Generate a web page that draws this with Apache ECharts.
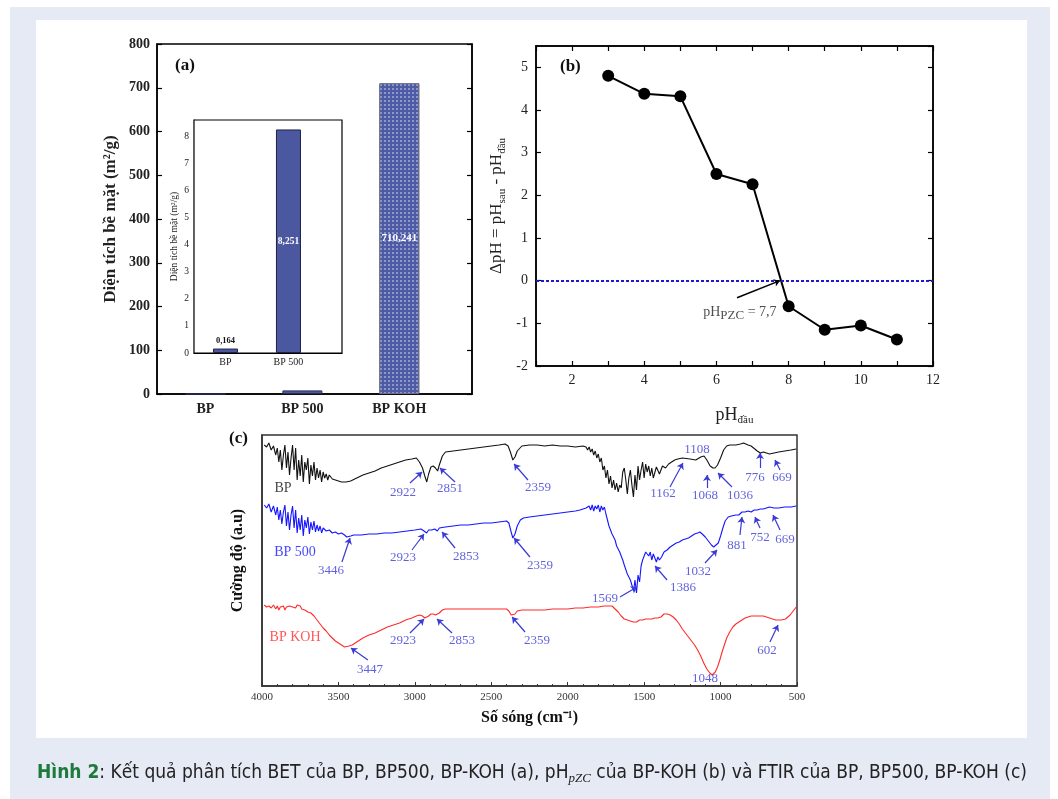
<!DOCTYPE html>
<html><head><meta charset="utf-8">
<script src="https://cdn.jsdelivr.net/npm/echarts@6/dist/echarts.min.js"></script>
<style>
html,body{margin:0;padding:0;background:#fff;}
#bg{position:absolute;left:10px;top:7px;width:1040px;height:792px;background:#e6eaf5;}
#inner{position:absolute;left:36px;top:20px;width:991px;height:718px;background:#fff;}
#c{position:absolute;left:0;top:0;width:1058px;height:799px;}
</style>
</head><body><div id="bg"></div><div id="inner"></div><div id="c"></div>
<script>
// ---------- data ----------
const betCategories = ['BP', 'BP 500', 'BP KOH'];
const betValues = [0.164, 8.251, 710.241];
const insetCategories = ['BP', 'BP 500'];
const insetValues = [0.164, 8.251];

const pzcX = [3, 4, 5, 6, 7, 8, 9, 10, 11];
const pzcY = [4.8, 4.38, 4.32, 2.5, 2.26, -0.6, -1.15, -1.05, -1.38];
const pzcLabel = '7,7';

// FTIR spectra: [wavenumber, intensity (a.u., offset stacked)]
const ftirBP = [
[3985,241],[3970,239],[3955,243],[3940,236],[3925,240],[3910,231],[3900,238],[3890,224],[3880,236],[3870,216],
[3860,231],[3850,241],[3840,218],[3830,234],[3820,211],[3810,228],[3800,241],[3790,216],[3780,238],[3770,206],
[3760,226],[3750,210],[3740,231],[3730,204],[3720,224],[3710,216],[3700,228],[3690,202],[3680,221],[3670,210],
[3660,224],[3650,206],[3640,218],[3630,208],[3620,216],[3610,204],[3600,214],[3590,208],[3580,212],[3570,206],
[3560,211],[3540,207],[3520,206],[3500,205],[3480,204],[3450,204],[3420,205],[3380,208],[3340,211],[3300,213],
[3260,215],[3220,218],[3180,220],[3140,222],[3100,224],[3060,226],[3020,227],[2990,228],[2970,224],[2950,218],
[2935,210],[2922,204],[2910,212],[2895,219],[2880,220],[2865,218],[2851,215],[2840,221],[2820,230],[2800,234],
[2750,235],[2700,236],[2650,237],[2600,238],[2550,239],[2500,240],[2450,241],[2410,242],[2390,240],[2375,234],
[2359,226],[2345,229],[2330,235],[2300,240],[2250,241],[2200,241],[2150,240],[2100,241],[2050,240],[2000,240],
[1950,239],[1900,240],[1880,239],[1870,236],[1860,239],[1850,234],[1840,237],[1830,231],[1820,235],[1810,228],
[1800,232],[1790,224],[1780,228],[1770,216],[1760,220],[1750,208],[1740,216],[1730,202],[1720,210],[1710,198],
[1700,206],[1690,196],[1680,203],[1670,194],[1660,201],[1650,198],[1640,214],[1630,218],[1620,206],[1610,192],
[1600,208],[1590,216],[1580,201],[1570,189],[1560,211],[1550,196],[1540,220],[1530,206],[1520,216],[1510,224],
[1500,208],[1490,222],[1480,214],[1470,220],[1460,210],[1450,218],[1440,208],[1420,219],[1400,212],[1380,220],
[1360,218],[1340,222],[1320,224],[1300,226],[1280,227],[1250,228],[1200,227],[1162,226],[1130,229],[1108,230],
[1090,226],[1068,220],[1050,218],[1036,218],[1020,221],[1000,228],[980,236],[960,240],[940,241],[900,241],
[870,242],[850,243],[820,241],[800,240],[776,237],[760,235],[740,233],[720,234],[700,233],[680,232],
[669,231],[650,233],[620,234],[580,235],[540,236],[505,237]
];
const ftirBP500 = [
[3985,181],[3970,178],[3955,182],[3940,174],[3925,180],[3910,171],[3900,179],[3890,166],[3880,176],[3870,162],
[3860,174],[3850,181],[3840,160],[3830,174],[3820,156],[3810,171],[3800,180],[3790,158],[3780,176],[3770,153],
[3760,168],[3750,156],[3740,171],[3730,150],[3720,166],[3710,158],[3700,169],[3690,152],[3680,164],[3670,156],
[3660,165],[3650,154],[3640,161],[3630,155],[3620,160],[3610,153],[3600,158],[3580,155],[3560,156],[3540,153],
[3520,154],[3500,152],[3480,153],[3460,151],[3446,149],[3420,150],[3400,151],[3350,151],[3300,152],[3250,152],
[3200,153],[3150,153],[3100,154],[3050,155],[3000,156],[2960,157],[2940,155],[2923,153],[2910,156],[2890,156],
[2870,157],[2853,155],[2840,158],[2800,159],[2750,160],[2700,161],[2650,161],[2600,162],[2550,163],[2500,163],
[2450,164],[2400,165],[2385,163],[2370,154],[2359,148],[2345,152],[2330,160],[2310,166],[2290,168],[2250,169],
[2200,170],[2150,171],[2100,172],[2050,173],[2000,174],[1950,175],[1920,176],[1900,177],[1880,178],[1870,176],
[1860,180],[1850,176],[1840,181],[1830,175],[1820,180],[1810,177],[1800,181],[1790,174],[1780,180],[1770,176],
[1760,179],[1750,172],[1740,166],[1730,160],[1720,162],[1710,152],[1700,154],[1690,146],[1680,140],[1670,142],
[1660,134],[1650,130],[1640,126],[1630,121],[1620,123],[1610,112],[1600,114],[1590,106],[1580,108],[1569,95],
[1560,106],[1550,93],[1540,111],[1530,104],[1520,120],[1510,126],[1500,130],[1490,134],[1480,136],[1470,130],
[1460,134],[1450,126],[1440,132],[1430,128],[1420,124],[1410,129],[1400,126],[1386,129],[1370,134],[1350,136],
[1330,139],[1310,141],[1290,143],[1270,144],[1250,146],[1230,147],[1210,148],[1190,150],[1170,152],[1150,153],
[1135,154],[1120,152],[1100,149],[1080,145],[1060,141],[1045,139],[1032,139],[1015,143],[1000,150],[985,158],
[970,165],[950,169],[930,170],[900,171],[881,171],[860,174],[840,174],[820,175],[800,174],[780,176],
[760,176],[752,175],[740,177],[720,177],[700,178],[680,179],[669,178],[650,178],[620,178],[580,179],
[540,179],[505,180]
];
const ftirKOH = [
[3985,81],[3970,79],[3955,80],[3940,78],[3925,81],[3910,77],[3900,80],[3890,76],[3880,79],[3870,78],
[3860,80],[3850,76],[3840,79],[3830,77],[3820,80],[3800,79],[3790,81],[3780,78],[3770,81],[3760,79],
[3750,80],[3740,77],[3730,79],[3720,76],[3710,77],[3700,74],[3690,75],[3680,73],[3660,70],[3640,66],
[3620,62],[3600,58],[3580,55],[3560,51],[3540,48],[3520,45],[3500,43],[3480,41],[3460,39],[3447,39],
[3430,40],[3410,41],[3390,43],[3370,45],[3340,48],[3300,51],[3260,53],[3220,56],[3180,59],[3140,61],
[3100,63],[3060,66],[3020,68],[2990,70],[2970,71],[2950,70],[2935,68],[2923,67],[2910,70],[2895,72],
[2880,72],[2865,71],[2853,70],[2840,73],[2820,76],[2800,77],[2700,77],[2600,77],[2500,77],[2420,77],
[2400,77],[2385,75],[2370,71],[2359,69],[2345,72],[2330,75],[2300,76],[2250,76],[2200,76],[2150,76],
[2100,77],[2050,77],[2000,77],[1950,78],[1900,78],[1850,79],[1800,79],[1760,80],[1730,80],[1710,80],
[1690,77],[1670,74],[1650,70],[1630,67],[1610,66],[1590,65],[1570,64],[1550,64],[1530,66],[1510,66],
[1490,67],[1470,67],[1450,67],[1430,68],[1410,68],[1390,69],[1370,72],[1350,72],[1330,71],[1310,69],
[1290,66],[1270,62],[1250,57],[1230,53],[1210,49],[1190,45],[1170,41],[1150,36],[1130,30],[1110,23],
[1090,17],[1070,13],[1055,11],[1048,12],[1035,14],[1020,19],[1005,26],[990,34],[975,41],[960,48],
[940,54],[920,59],[900,62],[880,64],[860,66],[840,68],[820,69],[800,70],[780,70],[760,70],
[740,70],[720,70],[700,69],[680,68],[660,67],[640,66],[620,66],[602,66],[590,66],[575,67],
[560,69],[545,71],[530,74],[515,77],[505,79]
];

// peak annotations: [label, textWn, textY, arrowFromWn, arrowFromY, arrowToWn, arrowToY]
const peaksBP = [
['2922',3078,193,3032,203,2953,214],['2851',2770,197,2737,204,2836,218],['2359',2194,198,2260,206,2351,222],
['1162',1377,192,1331,199,1246,223],['1108',1154,236],['1068',1102,190,1089,198,1089,211],
['1036',873,190,925,199,1017,213],['776',775,208,742,218,742,233],['669',598,208,611,216,644,226]
];
const peaksBP500 = [
['3446',3549,115,3477,124,3424,148],['2923',3078,128,3019,136,2940,152],['2853',2665,129,2737,138,2822,154],
['2359',2181,120,2247,129,2351,148],['1569',1756,87,1658,89,1547,99],['1386',1246,98,1350,106,1429,120],
['1032',1148,114,1102,123,1023,136],['881',893,140,873,151,860,169],['752',742,148,742,158,775,169],
['669',578,146,611,156,657,171]
];
const peaksKOH = [
['3447',3293,16,3307,26,3418,38],['2923',3078,45,3032,53,2940,67],['2853',2692,45,2757,53,2855,67],
['2359',2201,45,2279,54,2364,69],['1048',1102,7],['602',696,35,677,44,624,61]
];
const curveNames = ['BP', 'BP 500', 'BP KOH'];
const curveNameAt = [[3863,198],[3784,134],[3784,49]];
const curveColors = ['#111111', '#1515ff', '#ff2a2a'];

// pzc annotation (data coordinates)
const pzcArrow = [[6.57, -0.4], [7.76, 0]];
const pzcTextAt = [6.65, -0.75];

// ---------- chart ----------
const SERIF = "'Liberation Serif','Times New Roman',serif";
const fmt = v => String(v).replace('.', ',');
const annBlue = '#3a3ad6';

function peakSeries(peaks) {
  const arrows = peaks.filter(p => p.length > 3).map(p => ({coords: [[p[3], p[4]], [p[5], p[6]]]}));
  const texts = peaks.map(p => ({name: p[0], value: [p[1], p[2]]}));
  return [
    {type: 'lines', coordinateSystem: 'cartesian2d', xAxisIndex: 4, yAxisIndex: 5,
     symbol: ['none', 'arrow'], symbolSize: 6, silent: true,
     lineStyle: {color: annBlue, width: 1.2, opacity: 1}, data: arrows, z: 5},
    {type: 'scatter', xAxisIndex: 4, yAxisIndex: 5, symbolSize: 0, silent: true, z: 6,
     label: {show: true, position: 'inside', formatter: '{b}', color: annBlue,
             fontFamily: SERIF, fontSize: 13}, data: texts}
  ];
}

const chart = echarts.init(document.getElementById('c'), null, {renderer: 'canvas'});
const tickIn = {show: true, inside: true, length: 5, lineStyle: {color: '#000', width: 1.2}};
const axLine = {show: true, onZero: false, lineStyle: {color: '#000', width: 1.5}};
const CAPFONT = "'Liberation Sans Narrow','DejaVu Sans Condensed','Noto Sans',sans-serif";

const option = {
  animation: false,
  backgroundColor: 'transparent',
  grid: [
    {left: 157, top: 44, width: 315, height: 350, show: true, borderColor: '#000', borderWidth: 1.5, backgroundColor: 'transparent'},
    {left: 194, top: 120, width: 148, height: 233, show: true, borderColor: '#000', borderWidth: 1.2, backgroundColor: '#fff', z: 3},
    {left: 536, top: 46, width: 397, height: 320, show: true, borderColor: '#000', borderWidth: 1.5, backgroundColor: 'transparent'},
    {left: 262, top: 435, width: 535, height: 251, show: true, borderColor: '#333', borderWidth: 1.5, backgroundColor: 'transparent'}
  ],
  xAxis: [
    {gridIndex: 0, type: 'value', min: 0.5, max: 3.75, axisLine: axLine, axisTick: {show: false}, splitLine: {show: false},
     axisLabel: {customValues: [1, 2, 3], formatter: v => betCategories[Math.round(v) - 1] || '', fontFamily: SERIF,
                 fontWeight: 'bold', fontSize: 14, color: '#222', margin: 8}},
    {gridIndex: 1, type: 'value', min: 0.5, max: 2.85, axisLine: {show: true, onZero: false, lineStyle: {color: '#000', width: 1.2}},
     axisTick: {show: false}, splitLine: {show: false},
     axisLabel: {customValues: [1, 2], formatter: v => insetCategories[Math.round(v) - 1] || '', fontFamily: SERIF,
                 fontSize: 10, color: '#222', margin: 4}},
    {gridIndex: 2, type: 'value', min: 1, max: 12, interval: 1, axisLine: axLine, axisTick: tickIn, splitLine: {show: false},
     axisLabel: {formatter: v => (v % 2 === 0 ? String(v) : ''), fontFamily: SERIF, fontSize: 14, color: '#222', margin: 7},
     name: '{t|pH}{s|đầu}', nameLocation: 'middle', nameGap: 38,
     nameTextStyle: {fontFamily: SERIF, fontSize: 18, color: '#222',
       rich: {t: {fontFamily: SERIF, fontSize: 18, lineHeight: 22, color: '#222'},
              s: {fontFamily: SERIF, fontSize: 11, lineHeight: 11, verticalAlign: 'bottom', color: '#222'}}}},
    {gridIndex: 2, type: 'value', position: 'top', min: 1, max: 12, interval: 1, axisLine: axLine, axisTick: tickIn,
     axisLabel: {show: false}, splitLine: {show: false}},
    {gridIndex: 3, type: 'value', min: 500, max: 4000, interval: 500, inverse: true,
     axisLine: {show: true, onZero: false, lineStyle: {color: '#333', width: 1.5}},
     axisTick: {show: true, inside: true, length: 4, lineStyle: {color: '#333'}},
     minorTick: {show: true, splitNumber: 5, length: 2, lineStyle: {color: '#333'}},
     splitLine: {show: false},
     axisLabel: {formatter: v => String(v), fontFamily: SERIF, fontSize: 11, color: '#333', margin: 6},
     name: 'Số sóng (cm⁻¹)', nameLocation: 'middle', nameGap: 24,
     nameTextStyle: {fontFamily: SERIF, fontSize: 16, fontWeight: 'bold', color: '#111'}}
  ],
  yAxis: [
    {gridIndex: 0, type: 'value', min: 0, max: 800, interval: 100, axisLine: axLine, axisTick: tickIn, splitLine: {show: false},
     axisLabel: {fontFamily: SERIF, fontWeight: 'bold', fontSize: 14, color: '#222', margin: 7},
     name: 'Diện tích bề mặt (m²/g)', nameLocation: 'middle', nameGap: 38,
     nameTextStyle: {fontFamily: SERIF, fontWeight: 'bold', fontSize: 17, color: '#222'}},
    {gridIndex: 0, type: 'value', position: 'right', min: 0, max: 800, interval: 100, axisLine: axLine, axisTick: tickIn,
     axisLabel: {show: false}, splitLine: {show: false}},
    {gridIndex: 1, type: 'value', min: 0, max: 8.6, interval: 1, axisLine: {show: true, onZero: false, lineStyle: {color: '#000', width: 1.2}},
     axisTick: {show: true, inside: true, length: 3, lineStyle: {color: '#000'}}, splitLine: {show: false},
     axisLabel: {fontFamily: SERIF, fontSize: 9.5, color: '#222', margin: 5, showMaxLabel: false},
     name: 'Diện tích bề mặt (m²/g)', nameLocation: 'middle', nameGap: 15,
     nameTextStyle: {fontFamily: SERIF, fontSize: 9.5, color: '#222'}},
    {gridIndex: 2, type: 'value', min: -2, max: 5.5, interval: 1, axisLine: axLine, axisTick: tickIn, splitLine: {show: false},
     axisLabel: {fontFamily: SERIF, fontSize: 14, color: '#222', margin: 8, showMaxLabel: false},
     name: '{t|ΔpH = pH}{s|sau}{t| - pH}{s|đầu}', nameLocation: 'middle', nameGap: 28,
     nameTextStyle: {fontFamily: SERIF, fontSize: 17, color: '#222',
       rich: {t: {fontFamily: SERIF, fontSize: 17, lineHeight: 22, color: '#222'},
              s: {fontFamily: SERIF, fontSize: 11, lineHeight: 11, verticalAlign: 'bottom', color: '#222'}}}},
    {gridIndex: 2, type: 'value', position: 'right', min: -2, max: 5.5, interval: 1, axisLine: axLine, axisTick: tickIn,
     axisLabel: {show: false}, splitLine: {show: false}},
    {gridIndex: 3, type: 'value', min: 0, max: 251, axisLine: {show: true, onZero: false, lineStyle: {color: '#333', width: 1.5}},
     axisTick: {show: false}, axisLabel: {show: false}, splitLine: {show: false},
     name: 'Cường độ (a.u)', nameLocation: 'middle', nameGap: 16,
     nameTextStyle: {fontFamily: SERIF, fontSize: 16, fontWeight: 'bold', color: '#111'}}
  ],
  series: [
    // (a) main bars
    {type: 'bar', xAxisIndex: 0, yAxisIndex: 0, barWidth: 40, z: 2,
     data: betValues.map((v, i) => ({
       value: [i + 1, v],
       itemStyle: i === 2
         ? {color: '#4d5aa6', borderColor: '#6a6f88', borderWidth: 1,
            decal: {symbol: 'rect', symbolSize: 1, color: 'rgba(255,255,255,0.38)', dashArrayX: [2, 2], dashArrayY: [2, 2], rotation: 0}}
         : {color: '#4b579e', borderColor: '#2a2f55', borderWidth: 1},
       label: {show: i === 2, position: 'inside', formatter: fmt(v), color: '#fff', fontFamily: SERIF, fontWeight: 'bold', fontSize: 11}
     }))},
    // (a) inset bars
    {type: 'bar', xAxisIndex: 1, yAxisIndex: 2, barWidth: 25, z: 4,
     itemStyle: {color: '#4b579e', borderColor: '#1e2244', borderWidth: 1},
     data: insetValues.map((v, i) => ({
       value: [i + 1, v],
       label: i === 0
         ? {show: true, position: 'top', distance: 3, formatter: fmt(v), color: '#111', fontFamily: SERIF, fontWeight: 'bold', fontSize: 8.5}
         : {show: true, position: 'inside', formatter: fmt(v), color: '#fff', fontFamily: SERIF, fontWeight: 'bold', fontSize: 9.5}
     }))},
    // (b) pH curve
    {type: 'line', xAxisIndex: 2, yAxisIndex: 3, symbol: 'circle', symbolSize: 12, z: 4,
     itemStyle: {color: '#000'}, lineStyle: {color: '#000', width: 2},
     data: pzcX.map((x, i) => [x, pzcY[i]]),
     markLine: {silent: true, symbol: ['none', 'none'], label: {show: false},
                lineStyle: {color: '#1a1ad6', type: [3, 2], width: 2.2}, data: [{yAxis: 0}]}},
    {type: 'lines', coordinateSystem: 'cartesian2d', xAxisIndex: 2, yAxisIndex: 3, silent: true,
     symbol: ['none', 'arrow'], symbolSize: 6, lineStyle: {color: '#000', width: 1.5, opacity: 1},
     data: [{coords: pzcArrow}], z: 5},
    {type: 'scatter', xAxisIndex: 2, yAxisIndex: 3, symbolSize: 0, silent: true, z: 6,
     data: [{value: pzcTextAt}],
     label: {show: true, position: 'inside', formatter: '{t|pH}{s|PZC}{t| = ' + pzcLabel + '}',
             rich: {t: {fontFamily: SERIF, fontSize: 14, lineHeight: 18, color: '#222'},
                    s: {fontFamily: SERIF, fontSize: 13, lineHeight: 13, verticalAlign: 'bottom', color: '#222'}}}},
    // (c) FTIR curves
    ...[ftirBP, ftirBP500, ftirKOH].map((d, i) => ({
      type: 'line', xAxisIndex: 4, yAxisIndex: 5, symbol: 'none', silent: true, z: 3,
      lineStyle: {color: curveColors[i], width: 1.1}, data: d})),
    ...peakSeries(peaksBP), ...peakSeries(peaksBP500), ...peakSeries(peaksKOH),
    {type: 'scatter', xAxisIndex: 4, yAxisIndex: 5, symbolSize: 0, silent: true, z: 6,
     data: curveNames.map((n, i) => ({name: n, value: curveNameAt[i],
       label: {color: curveColors[i]}})),
     label: {show: true, position: 'inside', formatter: '{b}', fontFamily: SERIF, fontSize: 14}}
  ],
  graphic: [
    {type: 'text', left: 175, top: 57, style: {text: '(a)', font: "bold 17px 'Liberation Serif', serif", fill: '#111'}},
    {type: 'text', left: 560, top: 58, style: {text: '(b)', font: "bold 17px 'Liberation Serif', serif", fill: '#111'}},
    {type: 'text', left: 229, top: 430, style: {text: '(c)', font: "bold 17px 'Liberation Serif', serif", fill: '#111'}},
    {type: 'text', left: 37, top: 764, style: {
      text: '{g|Hình 2}{t|: Kết quả phân tích BET của BP, BP500, BP-KOH (a), pH}{s|pZC}{t| của BP-KOH (b) và FTIR của BP, BP500, BP-KOH (c)}',
      rich: {
        g: {fontFamily: CAPFONT, fontWeight: 'bold', fontSize: 19, lineHeight: 24, fill: '#1d7a3a', color: '#1d7a3a'},
        t: {fontFamily: CAPFONT, fontSize: 19, lineHeight: 24, fill: '#222', color: '#222'},
        s: {fontFamily: SERIF, fontStyle: 'italic', fontSize: 13, lineHeight: 13, verticalAlign: 'bottom', fill: '#222', color: '#222'}
      }}}
  ]
};
chart.setOption(option);
</script></body></html>
